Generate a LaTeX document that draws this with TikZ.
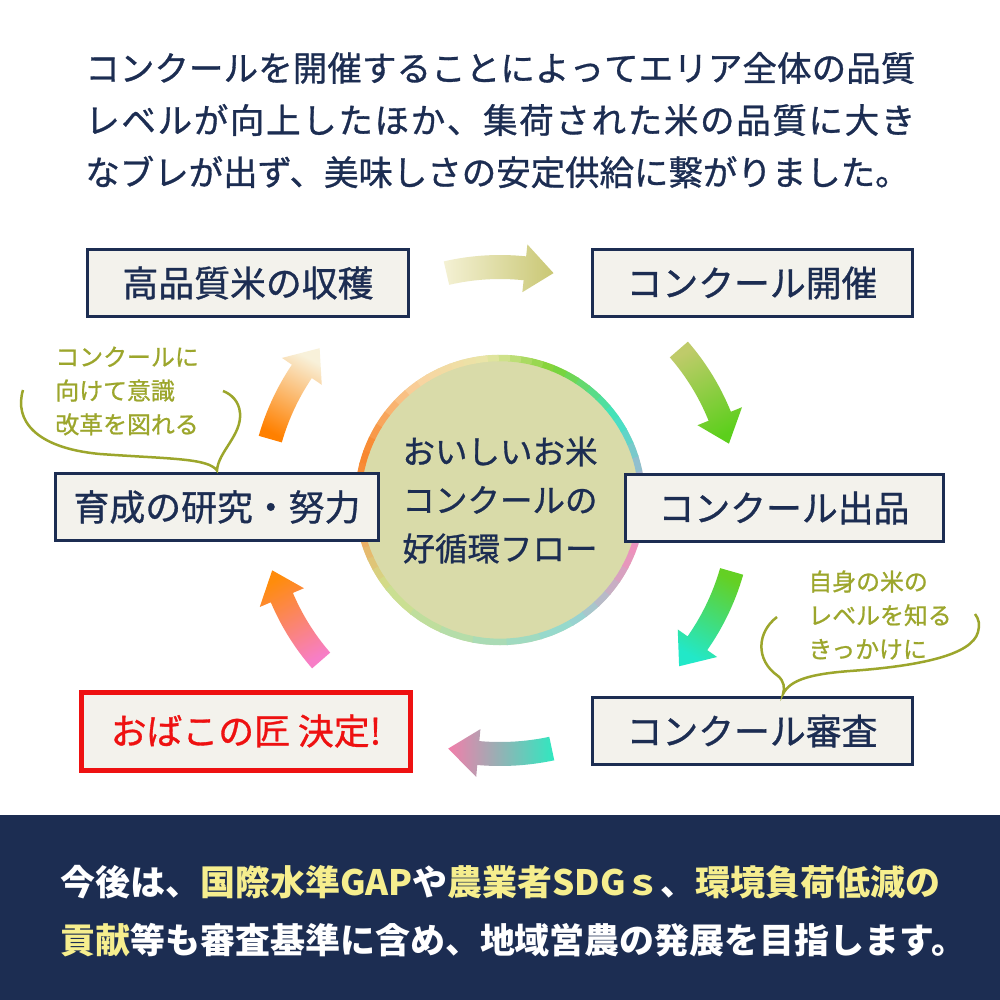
\documentclass[tikz,border=0pt]{standalone}
\usepackage{fontspec}
\setmainfont{Noto Sans CJK JP}
\newfontfamily\medfont[FakeBold=0.9]{Noto Sans CJK JP}
\definecolor{navy}{HTML}{1C2D52}
\definecolor{boxbg}{HTML}{F3F2EC}
\definecolor{olive}{HTML}{9CA62C}
\definecolor{redline}{HTML}{EE1111}
\definecolor{cyclefill}{HTML}{D9DBA9}
\definecolor{hilite}{HTML}{F6EE8E}
% ring colours
\definecolor{ringA}{HTML}{C9A6D6}
\definecolor{ringB}{HTML}{3FE3C3}
\definecolor{ringC}{HTML}{7ED232}
\definecolor{ringD}{HTML}{E9E6A8}
\definecolor{ringE}{HTML}{F9D3A0}
\definecolor{ringF}{HTML}{F8862C}
\definecolor{ringG}{HTML}{F6A05A}
\definecolor{ringH}{HTML}{CFE08C}
\definecolor{ringI}{HTML}{90D8D2}
\definecolor{ringJ}{HTML}{F08FBA}
% arrow colours
\definecolor{arrOneA}{HTML}{F4F1D4}
\definecolor{arrOneB}{HTML}{C9C774}
\definecolor{arrTwoA}{HTML}{BFCB6A}
\definecolor{arrTwoB}{HTML}{5CCF1C}
\definecolor{arrThreeA}{HTML}{64D024}
\definecolor{arrThreeB}{HTML}{22E8C8}
\definecolor{arrFourA}{HTML}{2FE8C0}
\definecolor{arrFourB}{HTML}{F27EAA}
\definecolor{arrFiveA}{HTML}{F77EC6}
\definecolor{arrFiveB}{HTML}{FF8C0C}
\definecolor{arrSixA}{HTML}{FF8000}
\definecolor{arrSixB}{HTML}{F8F1DA}
\newcommand\leadfont{\medfont\fontsize{19.6}{24}\selectfont}
\newcommand\boxfont{\medfont\fontsize{20.4}{24}\selectfont}
\newcommand\notefont{\medfont\fontsize{13.6}{19.2}\selectfont}
\newcommand\goalfont{\bfseries\fontsize{19.9}{24}\selectfont}
% spread a line of characters over a fixed width
\def\spreadline#1#2\relax{#1\spreadrest#2\relax}
\def\spreadrest#1{\ifx\relax#1\else\hskip0pt plus 1fil #1\expandafter\spreadrest\fi}
% curved arrow round the cycle: start, tip, radius, tail colour, tip colour, shading angle
\newcommand\cyclearrow[6]{%
  \pgfmathsetmacro\headbase{#2-7}
  \shade[top color=#4, bottom color=#5, shading angle=#6]
    plot[domain=#1:\headbase, samples=16] (\x:{#3-12})
    -- (\headbase:{#3-24}) -- (#2:#3) -- (\headbase:{#3+24})
    -- plot[domain=\headbase:#1, samples=16] (\x:{#3+12}) -- cycle;
}
\tikzset{
  stepbox/.style={draw=navy, line width=0.6mm, fill=boxbg, minimum width=64mm,
    minimum height=13.4mm, inner sep=0, text=navy, font=\boxfont},
  resultbox/.style={stepbox, draw=redline, line width=1mm, minimum width=65.6mm,
    minimum height=15.6mm, text=redline},
  note/.style={anchor=west, inner sep=0, align=left, text=olive, font=\notefont},
  bubble/.style={draw=olive, line width=0.5mm}
}
\begin{document}
\begin{tikzpicture}[x=0.2mm, y=-0.2mm]
  \useasboundingbox (0,0) rectangle (1000,1000);
  \fill[white] (0,0) rectangle (1000,1000);

  \node[anchor=west, inner sep=0, text=navy, font=\leadfont] (lead1) at (85,68) {\hbox to 166mm{\spreadline コンクールを開催することによってエリア全体の品質\relax}};
  \node[anchor=west, inner sep=0, text=navy, font=\leadfont] (lead2) at (85,120) {\hbox to 166mm{\spreadline レベルが向上したほか、集荷された米の品質に大き\relax}};
  \node[anchor=west, inner sep=0, text=navy, font=\leadfont] (lead3) at (85,172) {なブレが出ず、美味しさの安定供給に繋がりました。};

  \node[circle, fill=cyclefill, minimum size=58mm, inner sep=0, align=center, text=navy,
    font=\medfont\fontsize{18.5}{27.6}\selectfont] (flow) at (500,500) {おいしいお米\\コンクールの\\好循環フロー};
  \begin{scope}[shift={(500,500)}, yscale=-1]
    \foreach \a/\b/\ca/\cb in {0/35/ringA/ringB, 35/68/ringB/ringC, 68/95/ringC/ringD,
      95/125/ringD/ringE, 125/160/ringE/ringF, 160/190/ringF/ringG, 190/218/ringG/ringH,
      218/300/ringH/ringI, 300/338/ringI/ringJ, 338/360/ringJ/ringA}{
      \foreach \i in {0,...,5}{
        \pgfmathsetmacro\ta{\a+(\b-\a)*\i/6}
        \pgfmathsetmacro\tb{\a+(\b-\a)*(\i+1)/6+0.6}
        \pgfmathtruncatemacro\p{100*(\i+0.5)/6}
        \draw[line width=1.3mm, color=\cb!\p!\ca] plot[domain=\ta:\tb, samples=4] (\x:142);
      }
    }
  \end{scope}

  \node[stepbox] (shukaku) at (248,283) {高品質米の収穫};
  \node[stepbox] (kaisai) at (752,283) {コンクール開催};
  \node[stepbox, minimum width=63.6mm] (shuppin) at (784,508) {コンクール出品};
  \node[stepbox] (shinsa) at (752,731) {コンクール審査};
  \node[resultbox] (takumi) at (246,731) {おばこの匠 決定!};
  \node[stepbox, minimum width=64.4mm] (kenkyu) at (217,507) {育成の研究・努力};

  \begin{scope}[shift={(500,505)}]
    \cyclearrow{-103}{-77}{238}{arrOneA}{arrOneB}{90}
    \cyclearrow{-41}{-15}{237}{arrTwoA}{arrTwoB}{28}
    \cyclearrow{16}{42}{241}{arrThreeA}{arrThreeB}{-29}
    \cyclearrow{78}{102}{249}{arrFourA}{arrFourB}{-90}
    \cyclearrow{139}{164}{237}{arrFiveA}{arrFiveB}{-151}
    \cyclearrow{196}{221}{239}{arrSixA}{arrSixB}{152}
  \end{scope}

  \node[note] (noteL) at (55,391) {コンクールに\\向けて意識\\改革を図れる};
  \coordinate (tailL) at ([yshift=0.3mm]kenkyu.north);
  \draw[bubble] (23,390) .. controls (14,420) and (35,448) .. (100,454)
    .. controls (170,459) and (208,458) .. (tailL)
    .. controls (218,452) and (242,435) .. (240,413)
    .. controls (239,401) and (231,394) .. (223,391);

  \node[note] (noteR) at (808,615) {自身の米の\\レベルを知る\\きっかけに};
  \coordinate (tailR) at ([xshift=6.2mm, yshift=0.4mm]shinsa.north);
  \draw[bubble] (777,617) .. controls (757,632) and (755,660) .. (778,676)
    .. controls (784,681) and (785,688) .. (tailR)
    .. controls (790,680) and (810,674) .. (850,671)
    .. controls (920,666) and (972,655) .. (978,632)
    .. controls (980,625) and (979,619) .. (975,614);

  \fill[navy] (0,815) rectangle (1000,1000);
  \node[anchor=west, inner sep=0, text=white, font=\goalfont] (goal1) at (60,882)
    {今後は、\textcolor{hilite}{国際水準GAP}や\textcolor{hilite}{農業者SDGｓ}、\textcolor{hilite}{環境負荷低減の}};
  \node[anchor=west, inner sep=0, text=white, font=\goalfont] (goal2) at (60,940)
    {\textcolor{hilite}{貢献}等も審査基準に含め、地域営農の発展を目指します。};
\end{tikzpicture}
\end{document}
